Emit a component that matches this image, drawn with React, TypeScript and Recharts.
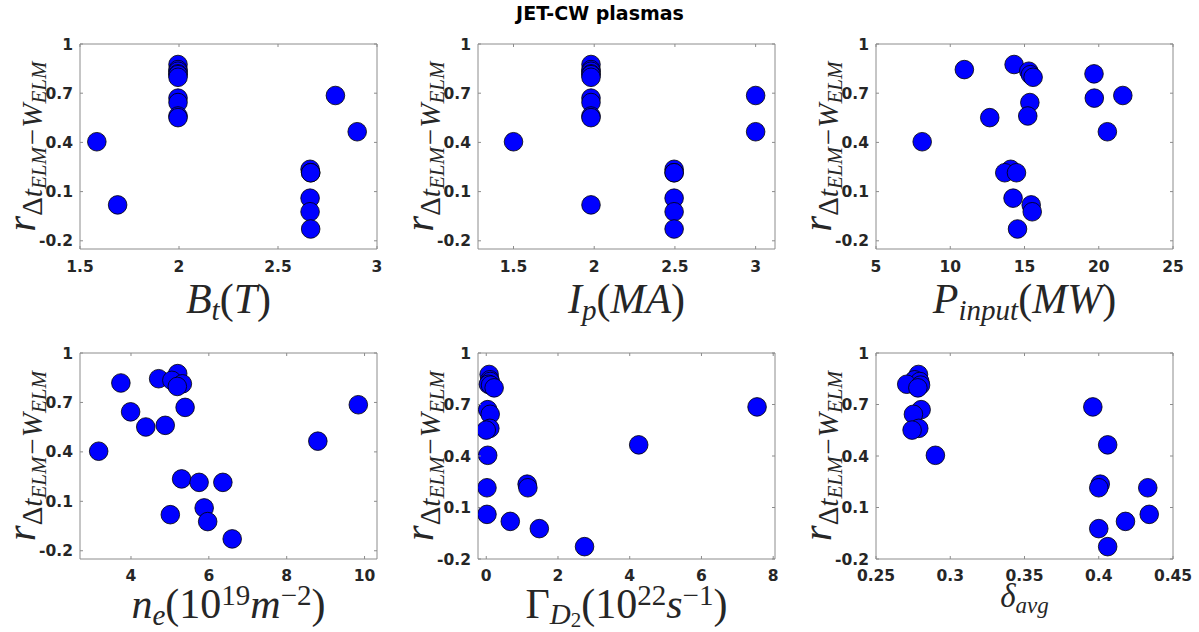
import React from 'react';
import { ScatterChart, Scatter, XAxis, YAxis, ReferenceLine } from 'recharts';

// correlation r(Δt_ELM − W_ELM) for each JET-CW plasma
const rValues = [0.404, 0.019, 0.686, 0.465, 0.236, 0.215, 0.215, 0.06, -0.023, -0.128, 0.875, 0.844, 0.834, 0.818, 0.813, 0.797, 0.67, 0.643, 0.561, 0.551];
const btValues = [1.585, 1.69, 2.79, 2.9, 2.662, 2.665, 2.665, 2.662, 2.662, 2.665, 1.995, 1.995, 1.995, 1.995, 1.995, 1.995, 1.995, 1.995, 1.995, 1.995];
const ipValues = [1.5, 1.98, 3.0, 3.0, 2.495, 2.495, 2.495, 2.495, 2.495, 2.495, 1.98, 1.98, 1.98, 1.98, 1.98, 1.98, 1.98, 1.98, 1.98, 1.98];
const pinValues = [8.11, 15.45, 21.62, 20.58, 14.07, 13.67, 14.46, 14.23, 15.52, 14.53, 14.3, 10.95, 15.29, 19.68, 15.4, 15.58, 19.7, 15.36, 15.22, 12.66];
const neValues = [3.17, 5.01, 9.84, 8.8, 5.3, 5.75, 6.36, 5.88, 5.97, 6.6, 5.2, 4.71, 5.05, 3.74, 5.32, 5.19, 5.39, 3.99, 4.88, 4.38];
const gammaValues = [0.04, 0.67, 7.55, 4.25, 1.14, 1.16, 0.02, 0.02, 1.48, 2.74, 0.08, 0.1, 0.11, 0.06, 0.12, 0.22, 0.04, 0.11, 0.1, 0.0];
const deltaValues = [0.29, 0.418, 0.396, 0.406, 0.401, 0.4, 0.433, 0.434, 0.4, 0.406, 0.2786, 0.276, 0.2795, 0.2707, 0.28, 0.2782, 0.2804, 0.2752, 0.2788, 0.2743];

const yTicks = [-0.2, 0.1, 0.4, 0.7, 1];
const btTicks = [1.5, 2, 2.5, 3];
const ipTicks = [1.5, 2, 2.5, 3];
const pinTicks = [5, 10, 15, 20, 25];
const neTicks = [4, 6, 8, 10];
const gammaTicks = [0, 2, 4, 6, 8];
const deltaTicks = [0.25, 0.3, 0.35, 0.4, 0.45];

const title = 'JET-CW plasmas';

const FRAME = '#8c8c8c';
const TEXT = '#262626';
const TICK_LEN = 3;
const SANS = '"DejaVu Sans", Verdana, sans-serif';
const SERIF = '"Liberation Serif", "Times New Roman", serif';
const TICK_FS = 15.5;

const ML = 80;
const MT = 12;
const MR = 30;
const MB = 80;

const F = 42;
const S = 29;
const SS = 21;

function XLabelText({ kind }: { kind: string }) {
  if (kind === 'bt')
    return (
      <>
        <tspan fontStyle="italic">B</tspan>
        <tspan fontStyle="italic" fontSize={S} dy={7}>t</tspan>
        <tspan dy={-7}>(</tspan>
        <tspan fontStyle="italic">T</tspan>
        <tspan>)</tspan>
      </>
    );
  if (kind === 'ip')
    return (
      <>
        <tspan fontStyle="italic">I</tspan>
        <tspan fontStyle="italic" fontSize={S} dy={7}>p</tspan>
        <tspan dy={-7}>(</tspan>
        <tspan fontStyle="italic">MA</tspan>
        <tspan>)</tspan>
      </>
    );
  if (kind === 'pin')
    return (
      <>
        <tspan fontStyle="italic">P</tspan>
        <tspan fontStyle="italic" fontSize={S} dy={7}>input</tspan>
        <tspan dy={-7}>(</tspan>
        <tspan fontStyle="italic">MW</tspan>
        <tspan>)</tspan>
      </>
    );
  if (kind === 'ne')
    return (
      <>
        <tspan fontStyle="italic">n</tspan>
        <tspan fontStyle="italic" fontSize={S} dy={7}>e</tspan>
        <tspan dy={-7}>(10</tspan>
        <tspan fontSize={S} dy={-13}>19</tspan>
        <tspan fontStyle="italic" dy={13}>m</tspan>
        <tspan fontSize={S} dy={-13}>−2</tspan>
        <tspan dy={13}>)</tspan>
      </>
    );
  if (kind === 'gamma')
    return (
      <>
        <tspan>Γ</tspan>
        <tspan fontStyle="italic" fontSize={S} dy={6}>D</tspan>
        <tspan fontSize={SS} dy={3}>2</tspan>
        <tspan dy={-9}>(10</tspan>
        <tspan fontSize={S} dy={-13}>22</tspan>
        <tspan fontStyle="italic" dy={13}>s</tspan>
        <tspan fontSize={S} dy={-13}>−1</tspan>
        <tspan dy={13}>)</tspan>
      </>
    );
  return (
    <>
      <tspan fontStyle="italic" fontSize={33}>δ</tspan>
      <tspan fontStyle="italic" fontSize={23} dy={6}>avg</tspan>
    </>
  );
}

function makeXLabel(kind: string, offset: number) {
  return (props: any) => {
    const vb = props.viewBox || {};
    const cx = vb.x + vb.width / 2;
    const by = vb.y + offset;
    return (
      <text x={cx} y={by} textAnchor="middle" fontFamily={SERIF} fontSize={F} fill={TEXT}>
        <XLabelText kind={kind} />
      </text>
    );
  };
}

function yLabel(props: any) {
  const vb = props.viewBox || {};
  const x = vb.x + 35;
  const y = vb.y + vb.height / 2;
  return (
    <text
      transform={`translate(${x},${y}) rotate(-90)`}
      textAnchor="middle"
      fontFamily={SERIF}
      fontSize={40}
      fill={TEXT}
    >
      <tspan fontStyle="italic">r</tspan>
      <tspan fontSize={S} dy={7}>Δ</tspan>
      <tspan fontSize={S} fontStyle="italic">t</tspan>
      <tspan fontSize={SS} fontStyle="italic" dy={4}>ELM</tspan>
      <tspan fontSize={S} dy={-4} dx={2}>−</tspan>
      <tspan fontSize={S} fontStyle="italic" dx={1}>W</tspan>
      <tspan fontSize={SS} fontStyle="italic" dy={4}>ELM</tspan>
    </text>
  );
}

function fmt(v: number) {
  return String(v);
}

function makeXTick(boxH: number, labelDy: number) {
  return (props: any) => {
    const { x, y, payload } = props;
    return (
      <g>
        <line x1={x} y1={y} x2={x} y2={y - TICK_LEN} stroke={FRAME} strokeWidth={1} />
        <line x1={x} y1={y - boxH} x2={x} y2={y - boxH + TICK_LEN} stroke={FRAME} strokeWidth={1} />
        <text x={x} y={y + labelDy} textAnchor="middle" fontFamily={SANS} fontWeight="bold" fontSize={TICK_FS} fill={TEXT}>
          {fmt(payload.value)}
        </text>
      </g>
    );
  };
}

function makeYTick(boxW: number) {
  return (props: any) => {
    const { x, y, payload } = props;
    return (
      <g>
        <line x1={x} y1={y} x2={x + TICK_LEN} y2={y} stroke={FRAME} strokeWidth={1} />
        <line x1={x + boxW} y1={y} x2={x + boxW - TICK_LEN} y2={y} stroke={FRAME} strokeWidth={1} />
        <text x={x - 7} y={y + 5.5} textAnchor="end" fontFamily={SANS} fontWeight="bold" fontSize={TICK_FS} fill={TEXT}>
          {fmt(payload.value)}
        </text>
      </g>
    );
  };
}

const Marker = (p: any) => (
  <circle cx={p.cx} cy={p.cy} r={9.3} fill="#0000ff" stroke="#000000" strokeWidth={0.8} />
);

type PanelProps = {
  xs: number[];
  left: number;
  top: number;
  w: number;
  h: number;
  xDomain: [number, number];
  yDomain: [number, number];
  xTicks: number[];
  kind: string;
  labelOffset: number;
  tickDy: number;
};

function Panel({ xs, left, top, w, h, xDomain, yDomain, xTicks, kind, labelOffset, tickDy }: PanelProps) {
  const data = xs.map((x, i) => ({ x, y: rValues[i] }));
  return (
    <div style={{ position: 'absolute', left: left - ML, top: top - MT }}>
      <ScatterChart width={w + ML + MR} height={h + MT + MB} margin={{ top: MT, right: MR, bottom: 0, left: 0 }}>
        <XAxis
          type="number"
          dataKey="x"
          domain={xDomain}
          ticks={xTicks}
          interval={0}
          allowDataOverflow
          height={MB}
          tickSize={0}
          tickMargin={0}
          tickLine={false}
          axisLine={{ stroke: FRAME, strokeWidth: 1 }}
          tick={makeXTick(h, tickDy)}
          label={makeXLabel(kind, labelOffset)}
        />
        <YAxis
          type="number"
          dataKey="y"
          domain={yDomain}
          ticks={yTicks}
          interval={0}
          allowDataOverflow
          width={ML}
          tickSize={0}
          tickMargin={0}
          tickLine={false}
          axisLine={{ stroke: FRAME, strokeWidth: 1 }}
          tick={makeYTick(w)}
          label={yLabel}
        />
        <ReferenceLine y={yDomain[1]} stroke={FRAME} strokeWidth={1} ifOverflow="visible" />
        <ReferenceLine x={xDomain[1]} stroke={FRAME} strokeWidth={1} ifOverflow="visible" />
        <Scatter data={data} isAnimationActive={false} shape={Marker} />
      </ScatterChart>
    </div>
  );
}

export default function App() {
  const W = 297;
  return (
    <div style={{ position: 'absolute', left: 0, top: 0, width: 1199, height: 632, background: '#ffffff', overflow: 'hidden' }}>
      <svg width={1199} height={30} style={{ position: 'absolute', left: 0, top: 0 }}>
        <text x={600} y={20} textAnchor="middle" fontFamily={SANS} fontWeight="bold" fontSize={19} fill="#000000">
          {title}
        </text>
      </svg>
      <Panel xs={btValues} left={80} top={44} w={W} h={205} xDomain={[1.5, 3]} yDomain={[-0.25, 1]} xTicks={btTicks} kind="bt" labelOffset={64} tickDy={23} />
      <Panel xs={ipValues} left={478} top={44} w={W} h={205} xDomain={[1.28, 3.12]} yDomain={[-0.25, 1]} xTicks={ipTicks} kind="ip" labelOffset={64} tickDy={23} />
      <Panel xs={pinValues} left={876} top={44} w={W} h={205} xDomain={[5, 25]} yDomain={[-0.25, 1]} xTicks={pinTicks} kind="pin" labelOffset={64} tickDy={23} />
      <Panel xs={neValues} left={80} top={353} w={W} h={206} xDomain={[2.69, 10.32]} yDomain={[-0.25, 1]} xTicks={neTicks} kind="ne" labelOffset={59} tickDy={22} />
      <Panel xs={gammaValues} left={478} top={353} w={W} h={206} xDomain={[-0.23, 8.05]} yDomain={[-0.2, 1]} xTicks={gammaTicks} kind="gamma" labelOffset={59} tickDy={22} />
      <Panel xs={deltaValues} left={876} top={353} w={W} h={206} xDomain={[0.25, 0.45]} yDomain={[-0.2, 1]} xTicks={deltaTicks} kind="delta" labelOffset={48} tickDy={22} />
    </div>
  );
}
